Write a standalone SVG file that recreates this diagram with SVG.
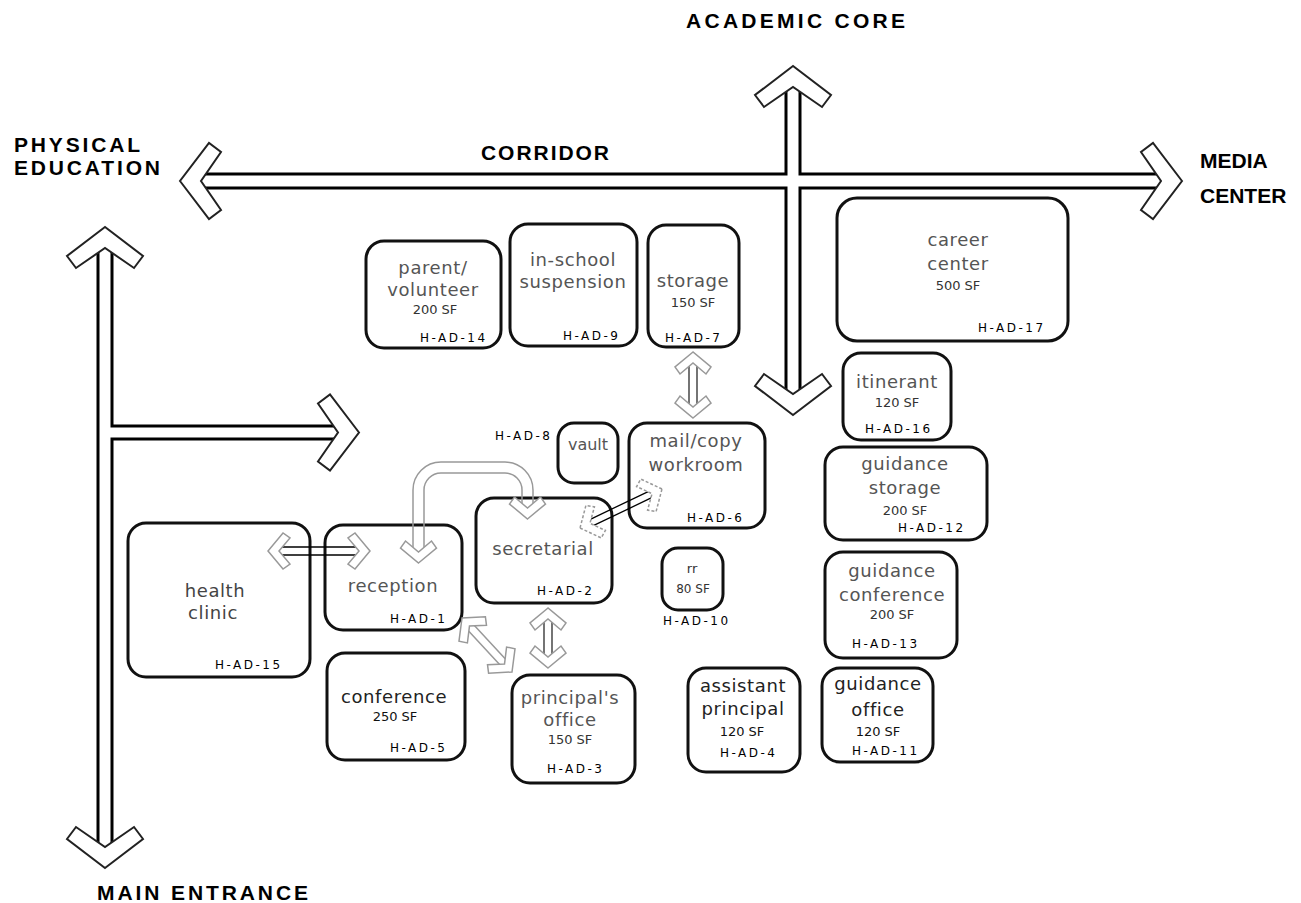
<svg xmlns="http://www.w3.org/2000/svg" xmlns:xlink="http://www.w3.org/1999/xlink" width="1301" height="903" viewBox="0 0 1301 903">
<style>
.lbl{font-family:"Liberation Sans",Arial,sans-serif;font-weight:bold;font-size:21px;fill:#000}
.room{fill:#fff;stroke:#111;stroke-width:3}
.nm{font-family:"DejaVu Sans",sans-serif;font-size:18px;letter-spacing:0.6px;fill:#555;text-anchor:middle}
.sf{font-family:"DejaVu Sans",sans-serif;font-size:13px;fill:#333;text-anchor:middle}
.id{font-family:"DejaVu Sans",sans-serif;font-size:12px;fill:#000;letter-spacing:2.5px}
.thick{stroke:#000;stroke-width:3;fill:none}
.chev{fill:#fff;stroke:#222;stroke-width:2}
.schev{fill:#fff;stroke:#999;stroke-width:1.5}
.dchev{fill:#fff;stroke:#999;stroke-width:1.5;stroke-dasharray:3 2}
.thin{stroke:#000;stroke-width:1.3;fill:none}
.gray{stroke:#999;stroke-width:1.5;fill:none}
.dgray{stroke:#666;stroke-width:1.8;fill:none}
</style>
<defs>
<path id="chev" d="M0,0 L-29,-38 L-41,-29 L-21,0 L-41,29 L-29,38 Z"/>
<path id="schev" d="M0,0 L-15,-18 L-22,-13 L-11,0 L-22,13 L-15,18 Z"/>
</defs>
<rect width="1301" height="903" fill="#fff"/>

<g id="labels">
<text class="lbl" x="686" y="28" textLength="219" lengthAdjust="spacing">ACADEMIC CORE</text>
<text class="lbl" x="14" y="152" textLength="126" lengthAdjust="spacing">PHYSICAL</text>
<text class="lbl" x="14" y="175" textLength="146" lengthAdjust="spacing">EDUCATION</text>
<text class="lbl" x="481" y="160" textLength="128" lengthAdjust="spacing">CORRIDOR</text>
<text class="lbl" x="1200" y="168">MEDIA</text>
<text class="lbl" x="1200" y="203">CENTER</text>
<text class="lbl" x="97" y="900" textLength="211" lengthAdjust="spacing">MAIN ENTRANCE</text>
</g>

<g id="rooms">
<g id="H-AD-14"><rect class="room" x="366" y="241" width="135" height="107" rx="18"/>
<text class="nm" x="433" y="274">parent/</text><text class="nm" x="433" y="296">volunteer</text>
<text class="sf" x="435" y="314">200 SF</text><text class="id" x="420" y="342">H-AD-14</text></g>

<g id="H-AD-9"><rect class="room" x="510" y="224" width="127" height="122" rx="18"/>
<text class="nm" x="573" y="266">in-school</text><text class="nm" x="573" y="288">suspension</text>
<text class="id" x="563" y="340">H-AD-9</text></g>

<g id="H-AD-7"><rect class="room" x="648" y="225" width="91" height="122" rx="18"/>
<text class="nm" x="693" y="287">storage</text><text class="sf" x="693" y="307">150 SF</text>
<text class="id" x="665" y="342">H-AD-7</text></g>

<g id="H-AD-17"><rect class="room" x="837" y="198" width="231" height="143" rx="20"/>
<text class="nm" x="958" y="246">career</text><text class="nm" x="958" y="270">center</text>
<text class="sf" x="958" y="290">500 SF</text><text class="id" x="978" y="332">H-AD-17</text></g>

<g id="H-AD-16"><rect class="room" x="843" y="353" width="108" height="87" rx="18"/>
<text class="nm" x="897" y="388">itinerant</text><text class="sf" x="897" y="407">120 SF</text>
<text class="id" x="865" y="433">H-AD-16</text></g>

<g id="H-AD-8"><rect class="room" x="558" y="423" width="60" height="60" rx="16"/>
<text class="nm" x="588" y="450" style="font-size:16px;letter-spacing:0">vault</text>
<text class="id" x="495" y="440">H-AD-8</text></g>

<g id="H-AD-6"><rect class="room" x="629" y="423" width="136" height="105" rx="18"/>
<text class="nm" x="696" y="447">mail/copy</text><text class="nm" x="696" y="471">workroom</text>
<text class="id" x="687" y="522">H-AD-6</text></g>

<g id="H-AD-2"><rect class="room" x="476" y="498" width="136" height="105" rx="18"/>
<text class="nm" x="543" y="555">secretarial</text>
<text class="id" x="537" y="595">H-AD-2</text></g>

<g id="H-AD-10"><rect class="room" x="662" y="548" width="61" height="62" rx="16"/>
<text class="sf" x="692" y="573">rr</text><text class="sf" x="693" y="593" style="font-size:12px">80 SF</text>
<text class="id" x="663" y="625">H-AD-10</text></g>

<g id="H-AD-15"><rect class="room" x="128" y="523" width="182" height="154" rx="18"/>
<text class="nm" x="215" y="597" style="fill:#444">health</text><text class="nm" x="213" y="619" style="fill:#444">clinic</text>
<text class="id" x="215" y="669">H-AD-15</text></g>

<g id="H-AD-1"><rect class="room" x="325" y="525" width="137" height="105" rx="18"/>
<text class="nm" x="393" y="592">reception</text>
<text class="id" x="390" y="623">H-AD-1</text></g>

<g id="H-AD-5"><rect class="room" x="327" y="653" width="138" height="107" rx="18"/>
<text class="nm" x="394" y="703" style="fill:#222">conference</text><text class="sf" x="395" y="721" style="fill:#111">250 SF</text>
<text class="id" x="390" y="752">H-AD-5</text></g>

<g id="H-AD-3"><rect class="room" x="512" y="675" width="123" height="108" rx="18"/>
<text class="nm" x="570" y="704">principal's</text><text class="nm" x="570" y="726">office</text>
<text class="sf" x="570" y="744">150 SF</text><text class="id" x="547" y="773">H-AD-3</text></g>

<g id="H-AD-4"><rect class="room" x="688" y="668" width="112" height="104" rx="18"/>
<text class="nm" x="743" y="692" style="fill:#222">assistant</text><text class="nm" x="743" y="715" style="fill:#222">principal</text>
<text class="sf" x="742" y="736" style="fill:#111">120 SF</text><text class="id" x="720" y="757">H-AD-4</text></g>

<g id="H-AD-12"><rect class="room" x="825" y="447" width="162" height="93" rx="18"/>
<text class="nm" x="905" y="470">guidance</text><text class="nm" x="905" y="494">storage</text>
<text class="sf" x="905" y="515">200 SF</text><text class="id" x="898" y="532">H-AD-12</text></g>

<g id="H-AD-13"><rect class="room" x="825" y="552" width="132" height="106" rx="18"/>
<text class="nm" x="892" y="577">guidance</text><text class="nm" x="892" y="601">conference</text>
<text class="sf" x="892" y="619">200 SF</text><text class="id" x="852" y="648">H-AD-13</text></g>

<g id="H-AD-11"><rect class="room" x="822" y="668" width="111" height="94" rx="18"/>
<text class="nm" x="878" y="690" style="fill:#222">guidance</text><text class="nm" x="878" y="716" style="fill:#222">office</text>
<text class="sf" x="878" y="736" style="fill:#111">120 SF</text><text class="id" x="852" y="755">H-AD-11</text></g>
</g>

<g id="connectors">
<path class="thick" d="M201,174 H786 V87"/>
<path class="thick" d="M201,188 H786 V394"/>
<path class="thick" d="M800,87 V174 H1161"/>
<path class="thick" d="M800,394 V188 H1161"/>
<use href="#chev" class="chev" transform="translate(180,181) rotate(180)"/>
<use href="#chev" class="chev" transform="translate(1182,181)"/>
<use href="#chev" class="chev" transform="translate(793,66) rotate(-90)"/>
<use href="#chev" class="chev" transform="translate(793,415) rotate(90)"/>
<path class="thick" d="M98,248 V847"/>
<path class="thick" d="M112,248 V426 H338"/>
<path class="thick" d="M338,439 H112 V847"/>
<use href="#chev" class="chev" transform="translate(105,227) rotate(-90)"/>
<use href="#chev" class="chev" transform="translate(105,868) rotate(90)"/>
<use href="#chev" class="chev" transform="translate(359,432.5)"/>
<path class="dgray" d="M689,364 V406 M697,364 V406"/>
<use href="#schev" class="schev" transform="translate(693,352) rotate(-90)"/>
<use href="#schev" class="schev" transform="translate(693,418) rotate(90)"/>
<path class="thin" d="M281,547 H357 M281,555 H357"/>
<use href="#schev" class="schev" transform="translate(268,551) rotate(180)"/>
<use href="#schev" class="schev" transform="translate(370,551)"/>
<path class="gray" d="M413,549 V490 A28,28 0 0 1 441,462 H505 A28,28 0 0 1 533,490 V507"/>
<path class="gray" d="M424,549 V490 A17,17 0 0 1 441,473 H505 A17,17 0 0 1 522,490 V507"/>
<use href="#schev" class="schev" transform="translate(418.5,563) rotate(90)"/>
<use href="#schev" class="schev" transform="translate(527.5,519) rotate(90)"/>
<path class="thin" d="M590.3,519.3 L648.7,491.3 M593.3,525.7 L651.7,497.7"/>
<use href="#schev" class="dchev" transform="translate(662,489) rotate(-25.1)"/>
<use href="#schev" class="dchev" transform="translate(580,528) rotate(154.9)"/>
<path class="gray" d="M467.9,630.2 L500.3,665.2 M473.7,624.8 L506.1,659.8"/>
<use href="#schev" class="schev" transform="translate(462,618) rotate(227.2)"/>
<use href="#schev" class="schev" transform="translate(512,672) rotate(47.2)"/>
<path class="dgray" d="M544,620 V656 M552,620 V656"/>
<use href="#schev" class="schev" transform="translate(548,608) rotate(-90)"/>
<use href="#schev" class="schev" transform="translate(548,668) rotate(90)"/>
</g>
</svg>
